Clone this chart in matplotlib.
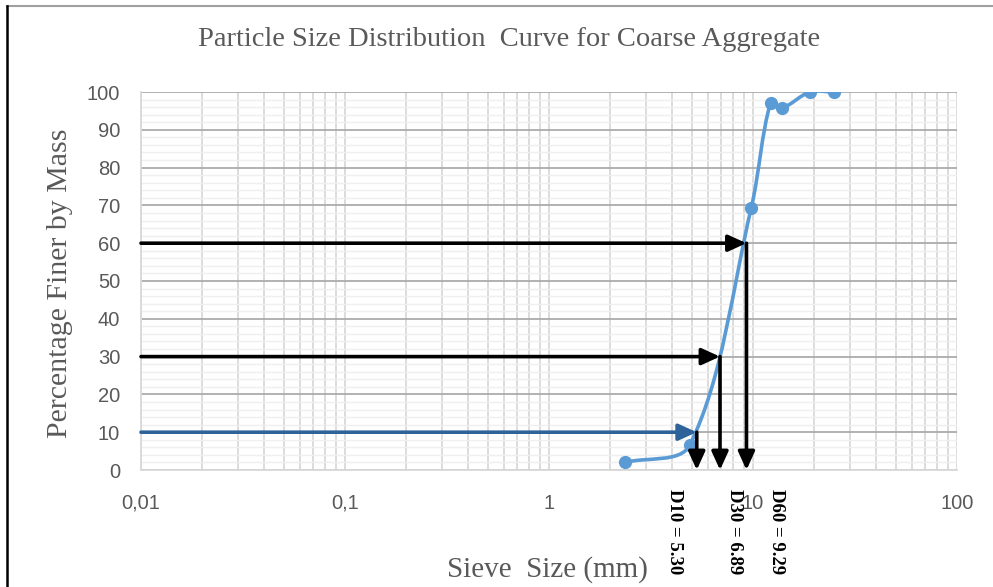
import numpy as np
import matplotlib
matplotlib.use("Agg")
import matplotlib.pyplot as plt
from matplotlib.path import Path
from matplotlib.patches import PathPatch
from matplotlib.lines import Line2D
from matplotlib.ticker import FixedLocator, FixedFormatter, LogLocator, MultipleLocator, NullFormatter

# sieve data
sieve_mm = [2.36, 4.9, 9.8, 12.2, 13.8, 19.0, 25.0]
pct_finer = [2.0, 6.6, 69.3, 97.2, 95.7, 100.0, 100.0]

d_names = ["D10", "D30", "D60"]
d_sizes = [5.30, 6.89, 9.29]
d_levels = [10, 30, 60]

x_ticks = [0.01, 0.1, 1, 10, 100]
x_tick_labels = ["0,01", "0,1", "1", "10", "100"]

LINE_BLUE = "#5B9BD5"
DARK_BLUE = "#2E6399"
GREY_TEXT = "#595959"
SERIF = "Liberation Serif"


def smooth_path(ax, xs, ys):
    # excel-like smoothed line, control points worked out in pixel space
    pts = ax.transData.transform(np.column_stack([xs, ys]))
    n = len(pts)
    out = [pts[0]]
    codes = [Path.MOVETO]
    for i in range(n - 1):
        p0 = pts[max(i - 1, 0)]
        p1 = pts[i]
        p2 = pts[i + 1]
        p3 = pts[min(i + 2, n - 1)]
        d01 = np.hypot(*(p1 - p0))
        d12 = np.hypot(*(p2 - p1))
        d23 = np.hypot(*(p3 - p2))
        c1 = p1 + (p2 - p0) * (d12 / max(d01 + d12, 1e-9)) / 3
        c2 = p2 - (p3 - p1) * (d12 / max(d12 + d23, 1e-9)) / 3
        out += [c1, c2, p2]
        codes += [Path.CURVE4] * 3
    verts = ax.transData.inverted().transform(np.array(out))
    return Path(verts, codes)


fig = plt.figure(figsize=(9.93, 5.87), dpi=100)
ax = fig.add_axes([141 / 993, 1 - 470 / 587, (957 - 141) / 993, (470 - 92) / 587])

ax.set_xscale("log")
ax.set_xlim(0.01, 100)
ax.set_ylim(0, 100)

ax.xaxis.set_major_locator(FixedLocator(x_ticks))
ax.xaxis.set_major_formatter(FixedFormatter(x_tick_labels))
ax.xaxis.set_minor_locator(LogLocator(base=10, subs=np.arange(2, 10)))
ax.xaxis.set_minor_formatter(NullFormatter())
ax.yaxis.set_major_locator(MultipleLocator(10))
ax.yaxis.set_minor_locator(MultipleLocator(2))

ax.grid(which="major", axis="x", color="#D9D9D9", linewidth=1.3)
ax.grid(which="minor", axis="x", color="#D9D9D9", linewidth=1.3)
ax.grid(which="major", axis="y", color="#ABABAB", linewidth=1.3)
ax.grid(which="minor", axis="y", color="#EFEFEF", linewidth=1.0)
ax.set_axisbelow(True)

for side in ["top", "right"]:
    ax.spines[side].set_visible(False)
for side in ["left", "bottom"]:
    ax.spines[side].set_color("#D9D9D9")
    ax.spines[side].set_linewidth(1.3)

ax.tick_params(which="both", length=0)
ax.tick_params(axis="x", pad=17, labelsize=14.5, labelcolor=GREY_TEXT)
ax.tick_params(axis="y", pad=15, labelsize=14.5, labelcolor=GREY_TEXT)
for lab in ax.get_xticklabels() + ax.get_yticklabels():
    lab.set_family("Liberation Sans")

# smoothed gradation curve
ax.add_patch(PathPatch(smooth_path(ax, sieve_mm, pct_finer), facecolor="none",
                       edgecolor=LINE_BLUE, linewidth=2.6, zorder=3))
ax.plot(sieve_mm, pct_finer, linestyle="none", marker="o", markersize=8.5,
        color=LINE_BLUE, zorder=4)

# D10/D30/D60 arrows
head = "-|>,head_length=1.1,head_width=0.5"
for name, size, level in zip(d_names, d_sizes, d_levels):
    hcol = DARK_BLUE if level == 10 else "black"
    ax.annotate("", xy=(size, level), xytext=(0.01, level),
                arrowprops=dict(arrowstyle=head, color=hcol, linewidth=2.6,
                                shrinkA=0, shrinkB=0),
                zorder=5)
    ax.annotate("", xy=(size, 0), xytext=(size, level),
                arrowprops=dict(arrowstyle=head, color="black", linewidth=2.6,
                                shrinkA=0, shrinkB=0),
                zorder=5)

label_x = [675, 735, 777]
for name, size, px in zip(d_names, d_sizes, label_x):
    fig.text(px / 993, 1 - 489 / 587, f"{name} = {size:.2f}", rotation=-90,
             ha="center", va="top", fontsize=13.5, fontweight="bold",
             family=SERIF, color="black")

fig.text(509 / 993, 1 - 40 / 587, "Particle Size Distribution  Curve for Coarse Aggregate",
         ha="center", va="center", fontsize=20.5, family=SERIF, color=GREY_TEXT)
fig.text(60 / 993, 1 - 283 / 587, "Percentage Finer by Mass", rotation=90,
         ha="center", va="center", fontsize=21.5, family=SERIF, color=GREY_TEXT)
fig.text(547 / 993, 1 - 570 / 587, "Sieve  Size (mm)",
         ha="center", va="center", fontsize=21, family=SERIF, color=GREY_TEXT)

# outer frame remnants (top grey, left black)
fig.add_artist(Line2D([7 / 993, 1], [1 - 6 / 587, 1 - 6 / 587], color="#A0A0A0",
                      linewidth=1.5, transform=fig.transFigure))
fig.add_artist(Line2D([7 / 993, 7 / 993], [0, 1 - 6 / 587], color="black",
                      linewidth=1.8, transform=fig.transFigure))

fig.savefig("out.png", dpi=100)
